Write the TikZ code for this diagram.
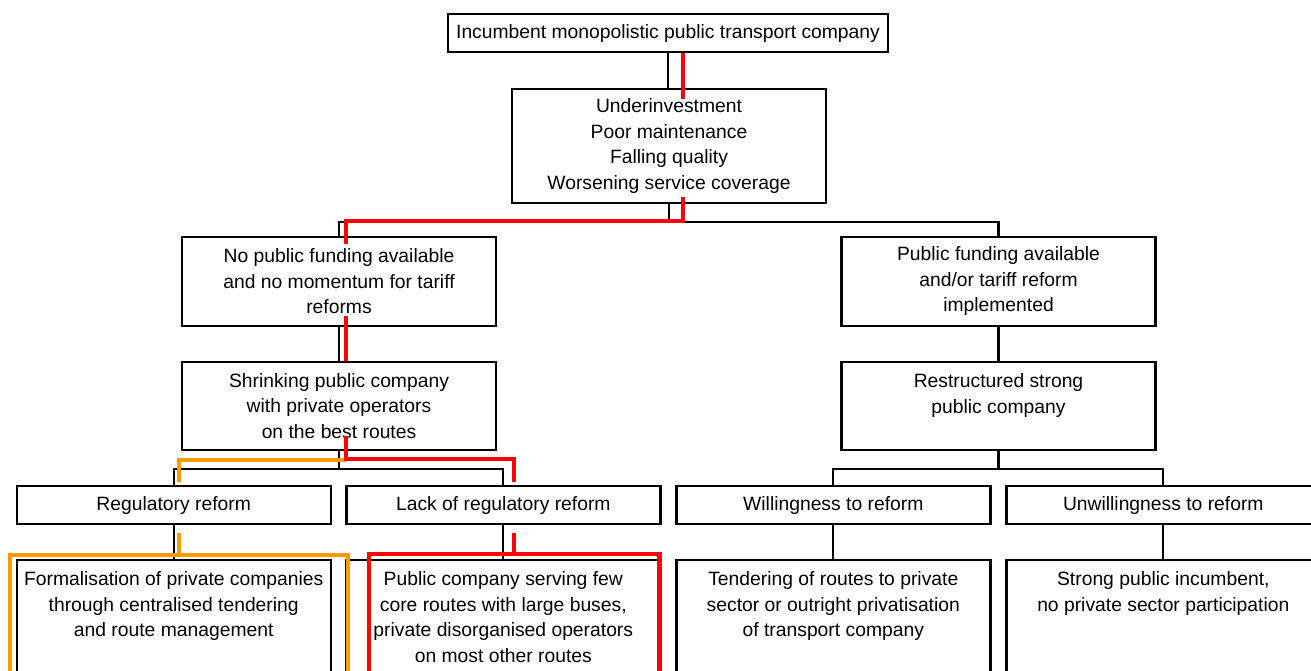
\documentclass[tikz,border=0pt]{standalone}
\usepackage{fontspec}
\setmainfont{Liberation Sans}
\usetikzlibrary{calc}
\definecolor{orangeline}{RGB}{255,153,0}

\begin{document}
\begin{tikzpicture}[x=1pt, y=-1pt,
	box/.style={draw, fill=white, line width=2.4pt, minimum width=314pt, inner sep=0pt, align=center, font=\fontsize{19.3}{25.5}\selectfont},
	link/.style={line width=2.2pt},
	redline/.style={line width=4.2pt, color=red},
	orangeline/.style={line width=3.6pt, color=orangeline}]
			%%%%% START %%%%%
			\useasboundingbox (0, 0) rectangle (1311, 670);
			\clip (0, 0) rectangle (1311, 670);
			
			\node[box, minimum width=440pt, minimum height=38pt] (top) at (668, 33) {\strut Incumbent monopolistic public transport company};
			\node[box, minimum height=114pt] (mid) at (669, 146) {Underinvestment\\Poor maintenance\\Falling quality\\Worsening service coverage};
			
			\node[box, minimum height=89pt] (nofund) at (339, 281.5) {No public funding available\\and no momentum for tariff\\reforms};
			\node[box, minimum height=89pt] (fund) at (998.5, 281.5) {Public funding available\\and/or tariff reform\\implemented};
			
			\node[box, minimum height=88pt] (shrink) at (339, 406) {Shrinking public company\\with private operators\\on the best routes};
			\node[box, minimum height=88pt] (restr) at (998.5, 406) {Restructured strong\\public company\\~};
			
			\node[box, minimum height=38pt] (reg) at (173.7, 505) {\strut Regulatory reform};
			\node[box, minimum height=38pt] (lack) at (503.3, 505) {\strut Lack of regulatory reform};
			\node[box, minimum height=38pt] (will) at (833.3, 505) {\strut Willingness to reform};
			\node[box, minimum height=38pt] (unwill) at (1163.3, 505) {\strut Unwillingness to reform};
			
			\node[box, minimum height=114pt] (formal) at (173.7, 617) {Formalisation of private companies\\through centralised tendering\\and route management\\~};
			\node[box, minimum height=114pt] (public) at (503.3, 617) {Public company serving few\\core routes with large buses,\\private disorganised operators\\on most other routes};
			\node[box, minimum height=114pt] (tender) at (833.3, 617) {Tendering of routes to private\\sector or outright privatisation\\of transport company\\~};
			\node[box, minimum height=114pt] (strong) at (1163.3, 617) {Strong public incumbent,\\no private sector participation\\~\\~};
			
			% tree
			\coordinate (j1) at ($(mid.south)+(0, 18)$);
			\coordinate (j2) at ($(shrink.south)+(0, 18)$);
			\coordinate (j3) at ($(restr.south)+(0, 18)$);
			
			\draw[link] (top.south) -- (top.south |- mid.north);
			\draw[link] (mid.south) -- (j1);
			\draw[link] (nofund.north) |- (j1) -| (fund.north);
			\draw[link] (nofund.south) -- (shrink.north);
			\draw[link] (fund.south) -- (restr.north);
			\draw[link] (shrink.south) -- (j2);
			\draw[link] (reg.north) |- (j2) -| (lack.north);
			\draw[link] (restr.south) -- (j3);
			\draw[link] (will.north) |- (j3) -| (unwill.north);
			\draw[link] (reg.south) -- (formal.north);
			\draw[link] (lack.south) -- (public.north);
			\draw[link] (will.south) -- (tender.north);
			\draw[link] (unwill.south) -- (strong.north);
			
			% orange path
			\draw[orangeline] ($(shrink.south)+(7, 9)$) -| ($(reg.north)+(5.3, -3)$);
			\draw[orangeline] ($(reg.south)+(5.3, 8)$) -- ($(reg.south)+(5.3, 32)$);
			\draw[orangeline] ($(formal.north west)+(-5.7, -4)$) rectangle ($(formal.south east)+(16.3, 30)$);
			
			% red path
			\draw[redline] ($(top.south)+(15, 0)$) -- ++(0, 46);
			\draw[redline] ($(mid.south)+(14, -7)$) -- ($(mid.south)+(14, 17)$) -| ($(nofund.north)+(7, 8)$);
			\draw[redline] ($(nofund.south)+(7, -11)$) -- ($(shrink.north)+(7, 0)$);
			\draw[redline] ($(shrink.south)+(7, -15)$) -- ($(shrink.south)+(7, 8)$) -| ($(lack.north)+(11, -3)$);
			\draw[redline] ($(lack.south)+(11, 8)$) -- ($(lack.south)+(11, 31)$);
			\draw[redline] ($(public.north west)+(24, -5)$) rectangle ($(public.south east)+(-2, 30)$);
			
			%%%%% END %%%%%
		\end{tikzpicture}
\end{document}
